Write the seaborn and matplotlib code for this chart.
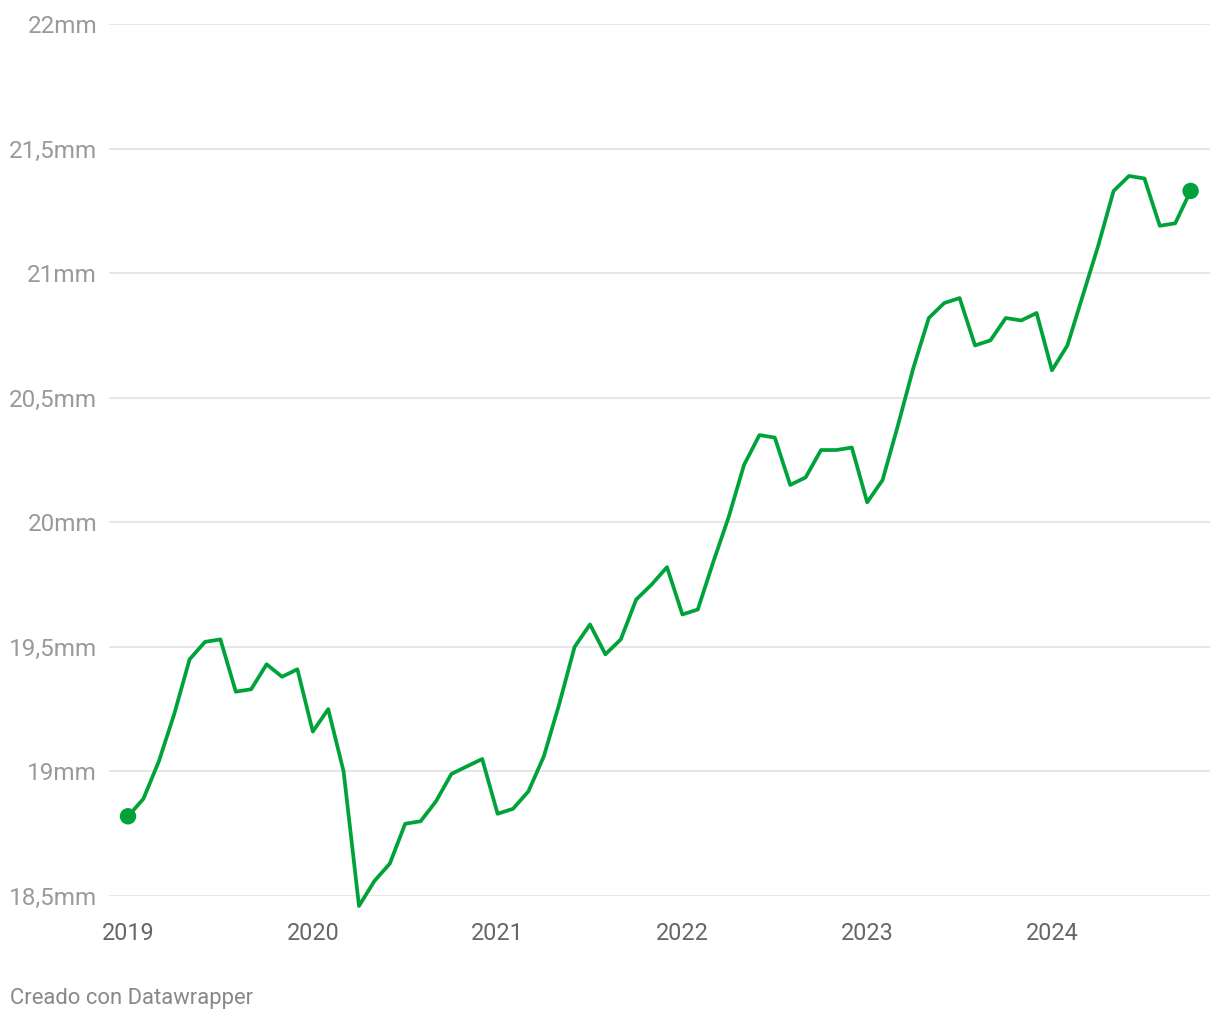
import numpy as np
import pandas as pd
import matplotlib
matplotlib.use("Agg")
import matplotlib.pyplot as plt
from matplotlib.ticker import FuncFormatter
import seaborn as sns

# Monthly values, Jan 2019 .. Oct 2024
start_year = 2019
values = [
    18.82, 18.89, 19.04, 19.23, 19.45, 19.52, 19.53, 19.32, 19.33, 19.43, 19.38, 19.41,
    19.16, 19.25, 19.00, 18.46, 18.56, 18.63, 18.79, 18.80, 18.88, 18.99, 19.02, 19.05,
    18.83, 18.85, 18.92, 19.06, 19.27, 19.50, 19.59, 19.47, 19.53, 19.69, 19.75, 19.82,
    19.63, 19.65, 19.84, 20.02, 20.23, 20.35, 20.34, 20.15, 20.18, 20.29, 20.29, 20.30,
    20.08, 20.17, 20.39, 20.62, 20.82, 20.88, 20.90, 20.71, 20.73, 20.82, 20.81, 20.84,
    20.61, 20.71, 20.91, 21.11, 21.33, 21.39, 21.38, 21.19, 21.20, 21.33,
]
year_ticks = [2019, 2020, 2021, 2022, 2023, 2024]
y_ticks = [18.5, 19.0, 19.5, 20.0, 20.5, 21.0, 21.5, 22.0]

df = pd.DataFrame({
    "fecha": [start_year + i / 12 for i in range(len(values))],
    "valor": values,
})
ends = df.iloc[[0, -1]]

GREEN = "#00a33a"

sns.set_theme(style="white")
plt.rcParams["font.family"] = ["Roboto", "DejaVu Sans"]

fig = plt.figure(figsize=(12.2, 10.22), dpi=100)
ax = fig.add_axes([109 / 1220, 1 - 896 / 1022, 1101 / 1220, 872 / 1022])

sns.lineplot(data=df, x="fecha", y="valor", color=GREEN, linewidth=2.7, ax=ax,
             clip_on=False, zorder=3)
sns.scatterplot(data=ends, x="fecha", y="valor", color=GREEN, s=140, edgecolor="none",
                ax=ax, clip_on=False, zorder=4)

ax.set_xlim(2019 - 19 / 184.8, 2019 + 1082 / 184.8)
ax.set_ylim(18.5, 22)
ax.set_xticks(year_ticks)
ax.set_xticklabels([str(y) for y in year_ticks])
ax.set_yticks(y_ticks)


def fmt_mm(v, _):
    s = f"{v:g}".replace(".", ",")
    return f"{s}mm"


ax.yaxis.set_major_formatter(FuncFormatter(fmt_mm))
ax.grid(axis="y", color="#e2e2e2", linewidth=1.2)
ax.set_axisbelow(True)
for s in ax.spines.values():
    s.set_visible(False)
ax.tick_params(axis="y", length=0, pad=8.5, labelsize=17.5, labelcolor="#9a9a9a")
ax.tick_params(axis="x", length=0, pad=19, labelsize=16.8, labelcolor="#666666")
ax.set_xlabel("")
ax.set_ylabel("")

fig.text(10 / 1220, 1 - 998 / 1022, "Creado con Datawrapper", fontsize=15.8,
         color="#888888", va="center", ha="left")

fig.savefig("out.png", dpi=100)
